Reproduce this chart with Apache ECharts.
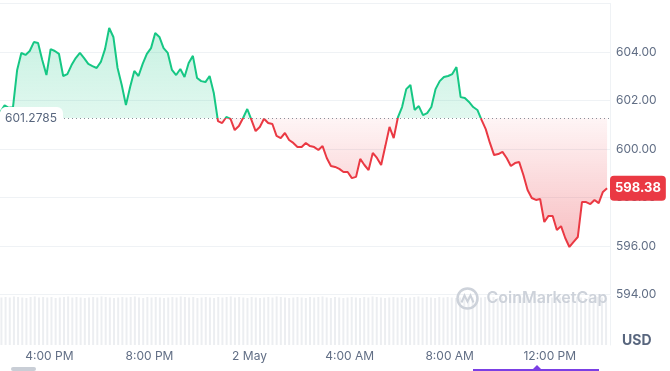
<!DOCTYPE html>
<html><head><meta charset="utf-8">
<script src="https://cdn.jsdelivr.net/npm/echarts@6/dist/echarts.min.js"></script>
<style>html,body{margin:0;padding:0;background:#fff}#c{width:670px;height:371px}</style>
</head><body><div id="c"></div>
<script>
// ---- data ----
const startTime = new Date(2024, 4, 1, 14, 5).getTime();
const stepMs = 10 * 60 * 1000;
const axisStart = new Date(2024, 4, 1, 14, 4).getTime();
const axisEnd = new Date(2024, 4, 2, 14, 22).getTime();
const openPrice = 601.2785;
const prices = [
 601.53, 601.80, 601.70, 601.72, 603.26, 603.96, 603.88, 604.04, 604.41, 604.37,
 603.67, 603.05, 604.12, 604.04, 603.92, 603.01, 603.09, 603.46, 603.75, 603.96,
 603.75, 603.51, 603.42, 603.34, 603.59, 604.12, 604.99, 604.62, 603.34, 602.64,
 601.81, 602.56, 603.22, 603.01, 603.51, 603.92, 604.16, 604.78, 604.62, 604.16,
 603.96, 603.26, 603.05, 603.30, 602.97, 603.55, 603.84, 602.93, 602.80, 602.76,
 603.01, 602.31, 601.15, 601.07, 601.32, 601.24, 600.78, 600.95, 601.28, 601.65,
 601.20, 600.74, 600.91, 601.25, 601.07, 601.03, 600.54, 600.45, 600.66, 600.37,
 600.25, 600.08, 600.08, 600.25, 600.12, 600.08, 599.96, 600.12, 599.63, 599.30,
 599.26, 599.18, 599.05, 599.05, 598.80, 598.85, 599.59, 599.34, 599.13, 599.84,
 599.63, 599.34, 600.12, 600.91, 600.45, 601.30, 601.73, 602.47, 602.64, 601.61,
 601.77, 601.40, 601.48, 601.73, 602.47, 602.80, 602.97, 603.01, 603.09, 603.38,
 602.14, 602.10, 601.94, 601.73, 601.61, 601.20, 600.82, 600.25, 599.75, 599.79,
 599.88, 599.63, 599.30, 599.42, 599.46, 598.93, 598.31, 597.98, 597.90, 597.94,
 596.99, 597.24, 597.24, 596.66, 596.82, 596.33, 595.96, 596.17, 596.37, 597.81,
 597.81, 597.73, 597.90, 597.77, 598.23, 598.38
];
const volumes = [
 97,98,97,99,98,97,96,98,99,97, 98,97,98,96,97,98,99,97,98,97,
 96,97,98,97,99,98,97,96,97,98, 97,98,99,97,96,98,97,98,97,96,
 97,98,97,99,98,97,98,96,97,98, 97,96,98,97,98,99,97,98,97,96,
 98,97,96,97,98,97,99,98,97,96, 97,98,97,96,98,97,98,99,97,96,
 98,97,96,97,98,97,96,98,97,99, 98,97,96,97,98,97,98,96,97,98,
 99,97,98,97,96,98,97,98,97,96, 97,98,99,97,96,97,98,97,98,96,
 97,98,97,96,98,97,99,98,97,96, 97,98,97,96,97,98,97,99,98,97,
 96,98,97,98,97,96
];
const priceMin = 594, priceMax = 606, priceStep = 2;
const currency = 'USD';
const brand = 'CoinMarketCap';

// ---- chart ----
const GREEN = '#16c784', RED = '#ea3943', LABEL = '#616e85', GRID = '#eff2f5';
const chart = echarts.init(document.getElementById('c'), null, {renderer: 'canvas'});
const priceData = prices.map((v, i) => [startTime + i * stepMs, v]);
const volData = volumes.map((v, i) => [startTime + i * stepMs, v]);
const lastPrice = prices[prices.length - 1];

function fmtTime(value) {
  const d = new Date(value);
  if (d.getMinutes() !== 0) return '';
  const h = d.getHours();
  if (h === 0) return d.getDate() + ' May';
  return (h % 12 || 12) + ':00 ' + (h < 12 ? 'AM' : 'PM');
}

const option = {
  animation: false,
  textStyle: {fontFamily: 'Inter, "Noto Sans", sans-serif'},
  grid: [
    {left: 0, right: 60, top: 3.5, height: 291},
    {left: 0, right: 60, top: 296, bottom: 26}
  ],
  xAxis: [
    {type: 'time', gridIndex: 0, min: axisStart, max: axisEnd,
     axisLine: {show: false}, axisTick: {show: false}, axisLabel: {show: false}, splitLine: {show: false}},
    {type: 'time', gridIndex: 1, min: axisStart, max: axisEnd,
     minInterval: 4 * 3600 * 1000, maxInterval: 4 * 3600 * 1000,
     axisLine: {show: false}, axisTick: {show: false}, splitLine: {show: false},
     axisLabel: {show: true, color: LABEL, fontSize: 12, margin: 5, formatter: fmtTime,
                 showMinLabel: false, showMaxLabel: false, hideOverlap: false}}
  ],
  yAxis: [
    {type: 'value', gridIndex: 0, position: 'right', min: priceMin, max: priceMax, interval: priceStep,
     axisLine: {show: true, lineStyle: {color: GRID}}, axisTick: {show: false},
     splitLine: {show: true, lineStyle: {color: GRID, width: 1}},
     axisLabel: {color: LABEL, fontSize: 12, margin: 6,
                 formatter: v => (v === priceMax ? '' : v.toFixed(2))}},
    {type: 'value', gridIndex: 1, position: 'right', min: 0, max: 100,
     axisLine: {show: true, lineStyle: {color: GRID}}, axisTick: {show: false},
     axisLabel: {show: false}, splitLine: {show: false}}
  ],
  visualMap: {
    show: false, type: 'piecewise', seriesIndex: 0, dimension: 1,
    pieces: [
      {gte: priceMin - 100, lt: openPrice, color: RED},
      {gte: openPrice, lt: priceMax + 100, color: GREEN}
    ]
  },
  series: [
    {id: 'price', type: 'line', xAxisIndex: 0, yAxisIndex: 0, data: priceData,
     showSymbol: false, symbol: 'none', z: 3,
     lineStyle: {width: 2},
     areaStyle: {origin: openPrice, opacity: 1},
     markLine: {
       symbol: 'none', silent: true, animation: false, z: 10,
       data: [
         {yAxis: openPrice,
          lineStyle: {type: [1, 3], color: '#8a8f99', width: 1},
          label: {show: true, position: 'insideStartTop', distance: [0, -11],
                  formatter: String(openPrice), backgroundColor: '#ffffff',
                  color: '#58667e', fontSize: 12, padding: [5, 6, 5, 5], borderRadius: 6}},
         {yAxis: lastPrice,
          lineStyle: {color: 'rgba(0,0,0,0)', width: 0},
          label: {show: true, position: 'end', distance: 0,
                  formatter: p => Number(p.value).toFixed(2), backgroundColor: RED,
                  color: '#ffffff', fontWeight: 'bold', fontSize: 13,
                  padding: [6, 5, 6, 5], borderRadius: 4}}
       ]
     }},
    {id: 'vol', type: 'bar', xAxisIndex: 1, yAxisIndex: 1, data: volData,
     barWidth: 2, itemStyle: {color: '#eceef1'}, silent: true}
  ],
  graphic: [
    {type: 'text', left: 622, top: 334, z: 20, style: {text: currency, fill: '#58667e', font: 'bold 14px Inter'}},
    {type: 'group', left: 455, top: 286, silent: true, z: 20, children: [
      {type: 'circle', z: 20, shape: {cx: 11, cy: 11, r: 10}, style: {fill: 'none', stroke: '#cdd2da', lineWidth: 2.5}},
      {type: 'polyline', z: 20, shape: {points: [[5, 15], [8, 8], [11, 14], [14, 8], [17, 15]]},
       style: {fill: 'none', stroke: '#cdd2da', lineWidth: 2}},
      {type: 'text', z: 20, x: 30, y: 11, style: {text: brand, fill: '#cdd2da', font: '600 16px Inter', verticalAlign: 'middle'}}
    ]},
    {type: 'rect', left: 11, top: 367, shape: {width: 25, height: 4, r: 2}, style: {fill: '#c9ced6'}},
    {type: 'rect', left: 473, top: 369, shape: {width: 126, height: 2}, style: {fill: '#7b3fe4'}},
    {type: 'polygon', shape: {points: [[533, 369], [537, 365], [541, 369]]}, style: {fill: '#7b3fe4'}}
  ]
};
chart.setOption(option);

const yTop = chart.convertToPixel({yAxisIndex: 0}, Math.max(...prices));
const yBase = chart.convertToPixel({yAxisIndex: 0}, openPrice);
const yBot = chart.convertToPixel({yAxisIndex: 0}, Math.min(...prices));
const f = Math.min(1, Math.max(0, (yBase - yTop) / (yBot - yTop)));
chart.setOption({series: [{id: 'price', areaStyle: {origin: openPrice, opacity: 1, color: {
  type: 'linear', x: 0, y: yTop, x2: 0, y2: yBot, global: true,
  colorStops: [
    {offset: 0, color: 'rgba(22,199,132,0.24)'},
    {offset: f, color: 'rgba(22,199,132,0.13)'},
    {offset: f, color: 'rgba(234,57,67,0.05)'},
    {offset: 1, color: 'rgba(234,57,67,0.33)'}
  ]}}}]});
</script></body></html>
